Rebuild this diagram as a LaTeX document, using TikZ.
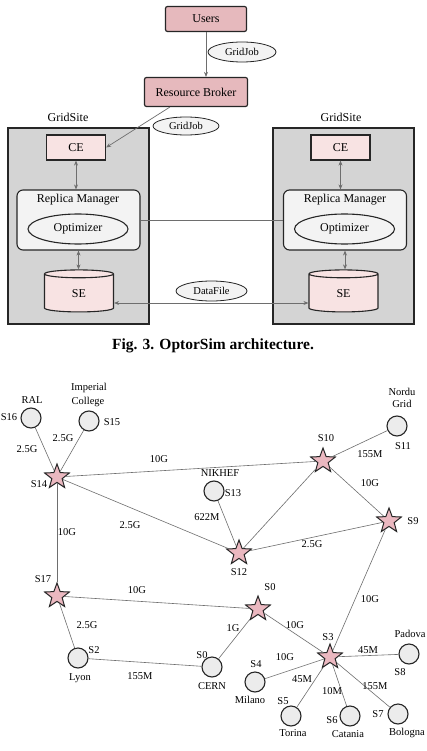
\documentclass[tikz,border=0pt]{standalone}
\usepackage{fontspec}
\setmainfont{Liberation Serif}
\usetikzlibrary{shapes.geometric,arrows.meta}
\definecolor{rbpink}{HTML}{E6B9BD}
\definecolor{cepink}{HTML}{F8E3E3}
\definecolor{sitegray}{HTML}{D4D4D4}
\definecolor{rmgray}{HTML}{F3F3F3}
\definecolor{nodegray}{HTML}{ECECEC}
\definecolor{starpink}{HTML}{EBB8C0}
\definecolor{edgegray}{HTML}{6E6E6E}
\begin{document}
\begin{tikzpicture}[x=1pt, y=-1pt, font=\fontsize{10.5}{12}\selectfont,
    tb/.style={rectangle, rounded corners=2pt, draw=black!85, line width=1.2pt, fill=rbpink, font=\fontsize{12}{14}\selectfont},
    ce/.style={rectangle, draw=black!85, line width=1.2pt, fill=cepink, font=\fontsize{12}{14}\selectfont, minimum width=59pt, minimum height=25pt},
    site/.style={rectangle, draw=black!85, line width=1.2pt, fill=sitegray, minimum width=141pt, minimum height=196pt},
    rm/.style={rectangle, rounded corners=6pt, draw=black!85, line width=1.1pt, fill=rmgray, minimum width=123pt, minimum height=60pt},
    opt/.style={ellipse, draw=black!85, line width=1.1pt, fill=rmgray, minimum width=100pt, minimum height=30pt, inner sep=0pt, font=\fontsize{12}{14}\selectfont},
    se/.style={cylinder, shape border rotate=90, aspect=0.38, draw=black!85, line width=1.1pt, fill=cepink, minimum width=69pt, minimum height=42pt, font=\fontsize{12}{14}\selectfont},
    msg/.style={ellipse, draw=black!85, line width=0.8pt, fill=rmgray, minimum width=68pt, minimum height=20pt, inner sep=0pt, font=\fontsize{10.5}{12}\selectfont},
    arw/.style={draw=edgegray, line width=0.7pt, -{Stealth[length=5pt,width=4pt]}},
    darw/.style={draw=edgegray, line width=0.7pt, {Stealth[length=5pt,width=4pt]}-{Stealth[length=5pt,width=4pt]}},
    cl/.style={circle, draw=black!85, line width=1.1pt, fill=nodegray, minimum size=20pt, inner sep=0pt},
    st/.style={star, star points=5, star point ratio=2.4, draw=black!85, line width=1pt, fill=starpink, minimum size=26pt, inner sep=0pt},
    ln/.style={draw=edgegray, line width=0.6pt}]
  \fill[white] (0,0) rectangle (427,751);
  \useasboundingbox (0,0) rectangle (427,751);
  % architecture
  \node[tb, minimum width=81pt, minimum height=25pt] (users) at (206,19) {Users};
  \node[tb, minimum width=103pt, minimum height=29pt] (rb) at (196,92) {Resource Broker};
  \node[msg] (gj1) at (242,52) {GridJob};
  \node[site] (gs1) at (78.5,226) {};
  \node[site] (gs2) at (343.5,226) {};
  \node (gsl1) at (68,117) {\fontsize{12}{14}\selectfont GridSite};
  \node (gsl2) at (341,117) {\fontsize{12}{14}\selectfont GridSite};
  \node[msg, minimum width=66pt, minimum height=18pt] (gj2) at (186,126) {GridJob};
  \node[ce] (ce1) at (76,147.5) {CE};
  \node[ce] (ce2) at (340.5,147.5) {CE};
  \node[rm] (rm1) at (78.5,220) {};
  \node[rm] (rm2) at (345,220) {};
  \node (rml1) at (78,200) {\fontsize{12}{14}\selectfont Replica Manager};
  \node (rml2) at (345,200) {\fontsize{12}{14}\selectfont Replica Manager};
  \node[opt] (opt1) at (78,229) {Optimizer};
  \node[opt] (opt2) at (344.5,229) {Optimizer};
  \node[se] (se1) at (79,294) {\raisebox{-4pt}{SE}};
  \node[se] (se2) at (343.5,294) {\raisebox{-4pt}{SE}};
  \node[msg, minimum width=71pt] (df) at (211.5,291) {DataFile};
  \draw[arw] (users.south) -- (users.south |- rb.north);
  \draw[arw] (rb.210) -- (ce1.east);
  \draw[darw] (ce1.south) -- (ce1.south |- rm1.north);
  \draw[darw] (ce2.south) -- (ce2.south |- rm2.north);
  \draw[darw] (rm1.south) -- (rm1.south |- se1.north);
  \draw[darw] (rm2.south) -- (rm2.south |- se2.north);
  \draw[ln] (rm1.east) -- (rm2.west);
  \draw[darw] ([yshift=-9pt]se1.east) -- ([yshift=-9pt]se2.west);
  \node[font=\bfseries\fontsize{15.5}{18}\selectfont] (cap) at (213,346) {Fig. 3. OptorSim architecture.};
  % network
  \node[cl] (s16) at (31,418) {};
  \node[cl] (s15) at (89,421) {};
  \node[st] (s14) at (57,477) {};
  \node[cl] (s13) at (214,491) {};
  \node[st] (s10) at (323,461) {};
  \node[cl] (s11) at (397,426) {};
  \node[st] (s9) at (389,521) {};
  \node[st] (s12) at (239,553) {};
  \node[st] (s17) at (57,596) {};
  \node[st] (s0) at (258,609) {};
  \node[cl] (s2) at (78,658) {};
  \node[cl] (cern) at (212,667) {};
  \node[st] (s3) at (330,657) {};
  \node[cl] (s8) at (409,654) {};
  \node[cl] (s4) at (255,682) {};
  \node[cl] (s5) at (291,716) {};
  \node[cl] (s6) at (350,716) {};
  \node[cl] (s7) at (398,714) {};
  \draw[ln] (s16) -- (s14);
  \draw[ln] (s15) -- (s14);
  \draw[ln] (s14) -- (s10);
  \draw[ln] (s14) -- (s12);
  \draw[ln] (s14) -- (s17);
  \draw[ln] (s13) -- (s12);
  \draw[ln] (s10) -- (s12);
  \draw[ln] (s10) -- (s11);
  \draw[ln] (s10) -- (s9);
  \draw[ln] (s12) -- (s9);
  \draw[ln] (s17) -- (s0);
  \draw[ln] (s17) -- (s2);
  \draw[ln] (s2) -- (cern);
  \draw[ln] (s0) -- (cern);
  \draw[ln] (s0) -- (s3);
  \draw[ln] (s9) -- (s3);
  \draw[ln] (s3) -- (s4);
  \draw[ln] (s3) -- (s5);
  \draw[ln] (s3) -- (s6);
  \draw[ln] (s3) -- (s7);
  \draw[ln] (s3) -- (s8);
  % site names
  \node (n16) at (32,400) {RAL};
  \node (l16) at (9,417) {S16};
  \node (n15a) at (89,388) {Imperial};
  \node (n15b) at (88,402) {College};
  \node (l15) at (112,422) {S15};
  \node (l14) at (39,484) {S14};
  \node (n13) at (220,473) {NIKHEF};
  \node (l13) at (233,493) {S13};
  \node (l10) at (326,438) {S10};
  \node (n11a) at (402,392) {Nordu};
  \node (n11b) at (402,404) {Grid};
  \node (l11) at (403,446) {S11};
  \node (l9) at (413,521) {S9};
  \node (l12) at (239,572) {S12};
  \node (l17) at (43,579) {S17};
  \node (l0) at (270,587) {S0};
  \node (l2) at (94,650) {S2};
  \node (n2) at (80,678) {Lyon};
  \node (lc) at (202,655) {S0};
  \node (nc) at (212,686) {CERN};
  \node (l3) at (328,637) {S3};
  \node (n8) at (410,634) {Padova};
  \node (l8) at (400,672) {S8};
  \node (l4) at (256,664) {S4};
  \node (n4) at (250,700) {Milano};
  \node (l5) at (283,701) {S5};
  \node (n5) at (293,733) {Torina};
  \node (l6) at (332,720) {S6};
  \node (n6) at (348,734) {Catania};
  \node (l7) at (378,714) {S7};
  \node (n7) at (407,733) {Bologna};
  % link speeds
  \node (e1614) at (27,449) {2.5G};
  \node (e1514) at (63,438) {2.5G};
  \node (e1410) at (159,459) {10G};
  \node (e1314) at (207,517) {622M};
  \node (e1412) at (130,525) {2.5G};
  \node (e1417) at (67,532) {10G};
  \node (e1011) at (370,454) {155M};
  \node (e1009) at (370,483) {10G};
  \node (e1209) at (312,544) {2.5G};
  \node (e1700) at (137,590) {10G};
  \node (e1702) at (87,625) {2.5G};
  \node (e02c) at (140,676) {155M};
  \node (e00c) at (233,628) {1G};
  \node (e0003) at (295,625) {10G};
  \node (e0903) at (370,599) {10G};
  \node (e0308) at (368,650) {45M};
  \node (e0304) at (285,657) {10G};
  \node (e0305) at (302,679) {45M};
  \node (e0306) at (332,691) {10M};
  \node (e0307) at (375,686) {155M};
\end{tikzpicture}
\end{document}
